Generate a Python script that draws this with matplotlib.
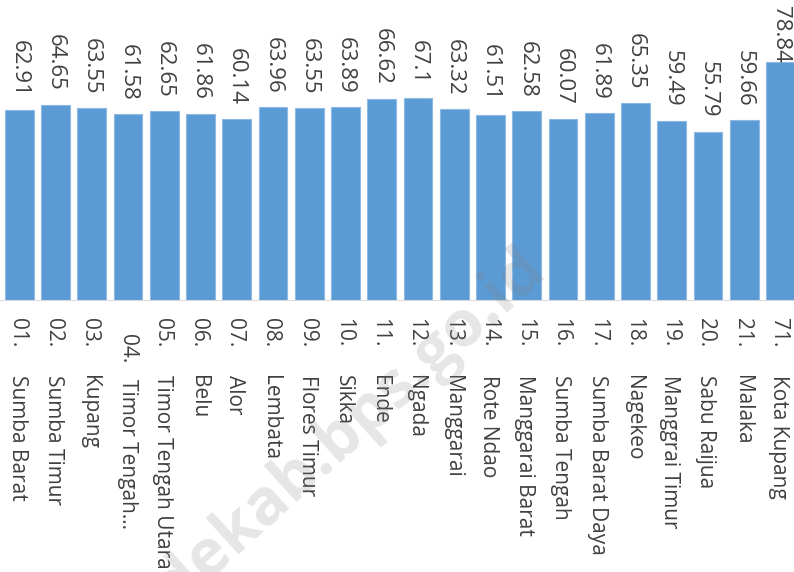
import matplotlib
matplotlib.use("Agg")
import matplotlib.pyplot as plt

codes = ["01.", "02.", "03.", "04.", "05.", "06.", "07.", "08.", "09.", "10.", "11.",
         "12.", "13.", "14.", "15.", "16.", "17.", "18.", "19.", "20.", "21.", "71."]
names = ["Sumba Barat", "Sumba Timur", "Kupang", "Timor Tengah...", "Timor Tengah Utara",
         "Belu", "Alor", "Lembata", "Flores Timur", "Sikka", "Ende", "Ngada", "Manggarai",
         "Rote Ndao", "Manggarai Barat", "Sumba Tengah", "Sumba Barat Daya", "Nagekeo",
         "Manggrai Timur", "Sabu Raijua", "Malaka", "Kota Kupang"]
values = [62.91, 64.65, 63.55, 61.58, 62.65, 61.86, 60.14, 63.96, 63.55, 63.89, 66.62,
          67.1, 63.32, 61.51, 62.58, 60.07, 61.89, 65.35, 59.49, 55.79, 59.66, 78.84]
value_labels = ["62.91", "64.65", "63.55", "61.58", "62.65", "61.86", "60.14", "63.96",
                "63.55", "63.89", "66.62", "67.1", "63.32", "61.51", "62.58", "60.07",
                "61.89", "65.35", "59.49", "55.79", "59.66", "78.84"]

W, H = 794, 572
fig = plt.figure(figsize=(W / 100, H / 100), dpi=100)
base_px = 301
ax = fig.add_axes([0, (H - base_px) / H, 1, base_px / H])
ax.set_ylim(0, base_px / 3.03)
ax.set_xlim(-0.53, 21.37)
ax.axis("off")

x = list(range(len(values)))
ax.bar(x, values, width=0.79, color="#5B9BD5", edgecolor="#8fb9e3", linewidth=0.8, zorder=2)
ax.axhline(0, color="#d9d9d9", linewidth=1.5, zorder=3)

font = "Open Sans"
txtcol = "#404040"

for xi, v, lab in zip(x, values, value_labels):
    if v > 75:
        ax.annotate(lab, xy=(xi, 1), xycoords=("data", "axes fraction"),
                    xytext=(0, -4), textcoords="offset points",
                    rotation=270, ha="center", va="top",
                    fontsize=16, family=font, color=txtcol)
    else:
        ax.annotate(lab, xy=(xi, v), xytext=(0, 10), textcoords="offset points",
                    rotation=270, ha="center", va="bottom",
                    fontsize=16, family=font, color=txtcol)

for xi, c, n in zip(x, codes, names):
    off_c, off_n, dx = 12.5, 53.5, 0
    if c == "04.":
        off_c, off_n, dx = 24, 56.5, 1.5
    ax.annotate(c, xy=(xi, 0), xytext=(dx - 1.5, -off_c), textcoords="offset points",
                rotation=270, ha="center", va="top",
                fontsize=15, family=font, color=txtcol)
    ax.annotate(n, xy=(xi, 0), xytext=(dx - 1.5, -off_n), textcoords="offset points",
                rotation=270, ha="center", va="top",
                fontsize=15, family=font, color=txtcol, annotation_clip=False)

# watermark
fig.text(548 / W, 1 - 274 / H, "endekab.bps.go.id", rotation=42, rotation_mode="anchor",
         ha="right", va="baseline", fontsize=46, fontweight="bold", family=font,
         color="#808080", alpha=0.2, zorder=10)

fig.savefig("out.png", dpi=100)
